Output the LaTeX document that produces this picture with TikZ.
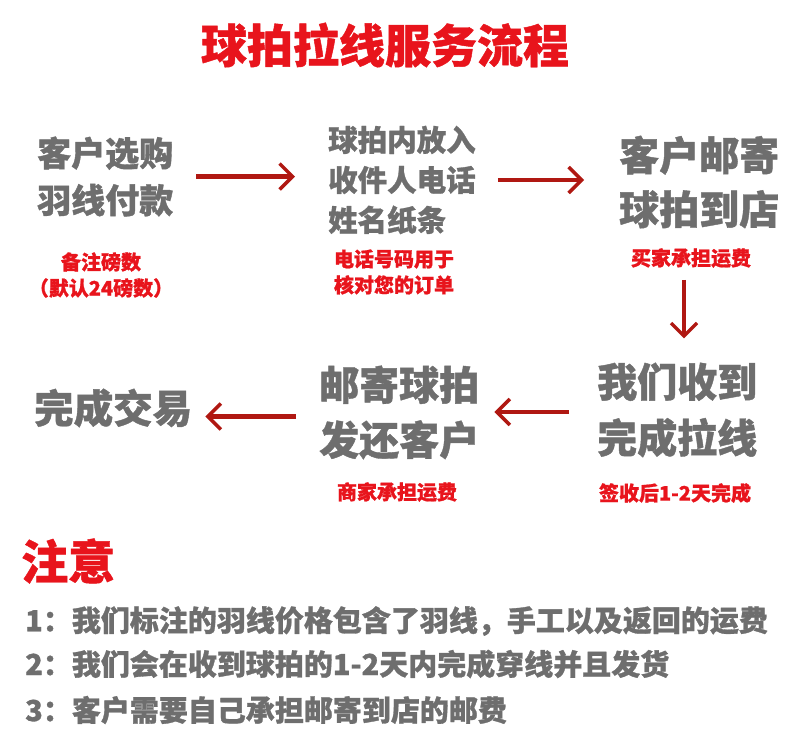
\documentclass[tikz,border=0pt]{standalone}
\usepackage{fontspec}
\usetikzlibrary{arrows.meta}
\newfontfamily\cjk{Noto Sans CJK SC}[BoldFeatures={FakeBold=1}]
\definecolor{txtgray}{HTML}{6E6E6E}
\definecolor{hotred}{HTML}{E8141C}
\definecolor{arrred}{HTML}{B01812}
\newcommand{\cnsize}[2]{\cjk\bfseries\fontsize{#1}{#2}\selectfont}
\tikzset{
  stepbox/.style={text=txtgray, inner sep=0pt, align=left, anchor=west},
  memo/.style={text=hotred, inner sep=0pt, align=center, font=\cnsize{20}{26}},
  flow/.style={arrred, line width=4.5pt, -{Straight Barb[length=13pt,width=26pt,line width=3.5pt]}},
}
\begin{document}
\begin{tikzpicture}[x=1pt,y=-1pt]
	\useasboundingbox (0,0) rectangle (800,748);
	\node[text=hotred, inner sep=0pt, font=\cnsize{46}{50}] (title) at (385,45) {球拍拉线服务流程};

	% top row
	\node[stepbox, font=\cnsize{34}{47}] (buy) at (37,176.5) {客户选购\\羽线付款};
	\node[stepbox, font=\cnsize{29.5}{40}] (pack) at (328,180) {球拍内放入\\收件人电话\\姓名纸条};
	\node[stepbox, font=\cnsize{40}{54}] (ship) at (619,182) {客户邮寄\\球拍到店};
	\node[memo] (buynote) at (101,275) {备注磅数\\（默认24磅数）};
	\node[memo] (packnote) at (394,272) {电话号码用于\\核对您的订单};
	\node[memo] (shipnote) at (691,258) {买家承担运费};

	% bottom row
	\node[stepbox, font=\cnsize{40}{56}] (recv) at (597,410) {我们收到\\完成拉线};
	\node[stepbox, font=\cnsize{40}{55}] (back) at (319,412.5) {邮寄球拍\\发还客户};
	\node[stepbox, font=\cnsize{39.5}{45}] (done) at (34,408) {完成交易};
	\node[memo] (recvnote) at (675,493) {签收后1-2天完成};
	\node[memo] (backnote) at (397,492) {商家承担运费};

	% arrows
	\draw[flow, shorten <=23pt, shorten >=33pt] (buy.east) -- (buy.east -| pack.west);
	\draw[flow, shorten <=22pt, shorten >=35pt] (pack.east) -- (pack.east -| ship.west);
	\draw[flow, shorten <=12pt, shorten >=24pt] ([xshift=-7pt]shipnote.south) -- ([xshift=-7pt]shipnote.south |- recv.north);
	\draw[flow, shorten <=28pt, shorten >=15pt] ([yshift=-2pt]recv.west) -- ([yshift=-2pt]recv.west -| back.east);
	\draw[flow, shorten <=23pt, shorten >=13pt] ([yshift=-4pt]back.west) -- ([yshift=-4pt]back.west -| done.east);

	% notes
	\node[text=hotred, inner sep=0pt, anchor=west, font=\cnsize{47}{50}] (heed) at (21,561) {注意};
	\node[stepbox, font=\cnsize{29}{40}] (tip1) at (25,621) {1：我们标注的羽线价格包含了羽线，手工以及返回的运费};
	\node[stepbox, font=\cnsize{29}{40}] (tip2) at (25,664) {2：我们会在收到球拍的1-2天内完成穿线并且发货};
	\node[stepbox, font=\cnsize{29}{40}] (tip3) at (25,710) {3：客户需要自己承担邮寄到店的邮费};
\end{tikzpicture}
\end{document}
